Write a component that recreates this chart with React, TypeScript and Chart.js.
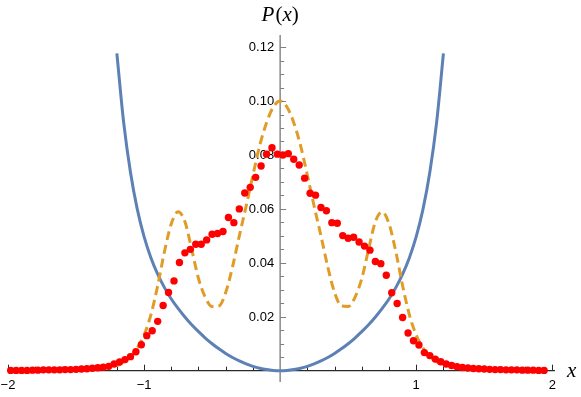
import React, { useEffect, useRef } from 'react';
import { Chart, registerables } from 'chart.js';

Chart.register(...registerables);

// Histogram / sampled probability (red dots)
const dotX = [
  -1.98, -1.94, -1.9, -1.86, -1.82, -1.78, -1.74, -1.7, -1.66, -1.62,
  -1.58, -1.54, -1.5, -1.46, -1.42, -1.38, -1.34, -1.3, -1.26, -1.22,
  -1.18, -1.14, -1.1, -1.06, -1.02, -0.98, -0.94, -0.9, -0.86, -0.82,
  -0.78, -0.74, -0.7, -0.66, -0.62, -0.58, -0.54, -0.5, -0.46, -0.42,
  -0.38, -0.34, -0.3, -0.26, -0.22, -0.18, -0.14, -0.1, -0.06, -0.02,
  0.02, 0.06, 0.1, 0.14, 0.18, 0.22, 0.26, 0.3, 0.34, 0.38,
  0.42, 0.46, 0.5, 0.54, 0.58, 0.62, 0.66, 0.7, 0.74, 0.78,
  0.82, 0.86, 0.9, 0.94, 0.98, 1.02, 1.06, 1.1, 1.14, 1.18,
  1.22, 1.26, 1.3, 1.34, 1.38, 1.42, 1.46, 1.5, 1.54, 1.58,
  1.62, 1.66, 1.7, 1.74, 1.78, 1.82, 1.86, 1.9, 1.94,
];
const dotP = [
  0.0001, 0.0001, 0.0001, 0.0001, 0.0002, 0.0002, 0.0003, 0.0003, 0.0003, 0.0003,
  0.0004, 0.0004, 0.0005, 0.0006, 0.0007, 0.0009, 0.0011, 0.0013, 0.0016, 0.0025,
  0.0032, 0.0041, 0.0052, 0.007, 0.0096, 0.013, 0.0148, 0.0183, 0.0242, 0.029,
  0.0333, 0.0401, 0.0437, 0.045, 0.0469, 0.0469, 0.0485, 0.0506, 0.0509, 0.0516,
  0.0568, 0.0549, 0.06, 0.0659, 0.068, 0.0717, 0.0759, 0.0803, 0.0827, 0.0803,
  0.08, 0.0805, 0.0784, 0.0763, 0.0714, 0.0658, 0.0651, 0.0605, 0.0593, 0.0549,
  0.0547, 0.0501, 0.0491, 0.0495, 0.0477, 0.0462, 0.0447, 0.0405, 0.0397, 0.0354,
  0.0289, 0.0249, 0.0197, 0.014, 0.0111, 0.0095, 0.0067, 0.0056, 0.0043, 0.0033,
  0.0025, 0.0019, 0.0015, 0.0012, 0.001, 0.0008, 0.0007, 0.0006, 0.0005, 0.0004,
  0.0004, 0.0003, 0.0003, 0.0003, 0.0002, 0.0002, 0.0002, 0.0001, 0.0001,
];

// Curves (blue potential, orange dashed density)
const curveX = [
  -1.2, -1.15, -1.1, -1.05, -1.0, -0.95, -0.9, -0.85, -0.8, -0.75,
  -0.7, -0.65, -0.6, -0.55, -0.5, -0.45, -0.4, -0.35, -0.3, -0.25,
  -0.2, -0.15, -0.1, -0.05, 0, 0.05, 0.1, 0.15, 0.2, 0.25,
  0.3, 0.35, 0.4, 0.45, 0.5, 0.55, 0.6, 0.65, 0.7, 0.75,
  0.8, 0.85, 0.9, 0.95, 1.0, 1.05, 1.1, 1.15, 1.2,
];
const potential = [
  0.1177, 0.0921, 0.0736, 0.0599, 0.0497, 0.0419, 0.0358, 0.0308, 0.0266, 0.0231,
  0.0199, 0.017, 0.0145, 0.0121, 0.01, 0.0081, 0.0064, 0.0049, 0.0036, 0.0025,
  0.0016, 0.0009, 0.0004, 0.0001, 0, 0.0001, 0.0004, 0.0009, 0.0016, 0.0025,
  0.0036, 0.0049, 0.0064, 0.0081, 0.01, 0.0121, 0.0145, 0.017, 0.0199, 0.0231,
  0.0266, 0.0308, 0.0358, 0.0419, 0.0497, 0.0599, 0.0736, 0.0921, 0.1177,
];
const density = [
  0.0017, 0.0033, 0.0053, 0.0084, 0.0132, 0.0207, 0.0315, 0.0442, 0.0545, 0.0589,
  0.0553, 0.045, 0.0342, 0.0272, 0.0238, 0.024, 0.029, 0.0385, 0.05, 0.061,
  0.0725, 0.0835, 0.092, 0.0978, 0.1, 0.0978, 0.092, 0.0835, 0.0725, 0.061,
  0.05, 0.0385, 0.029, 0.024, 0.0238, 0.0272, 0.0342, 0.045, 0.0553, 0.0589,
  0.0545, 0.0442, 0.0315, 0.0207, 0.0132, 0.0084, 0.0053, 0.0033, 0.0017,
];

const xMajorTicks = [-2, -1, 1, 2];
const xTickLabels = ['\u22122', '\u22121', '1', '2'];
const xMinorTicks = [
  -1.8, -1.6, -1.4, -1.2, -0.8, -0.6, -0.4, -0.2, 0.2, 0.4, 0.6, 0.8, 1.2, 1.4, 1.6, 1.8,
];
const yMajorTicks = [0.02, 0.04, 0.06, 0.08, 0.1, 0.12];
const yTickLabels = ['0.02', '0.04', '0.06', '0.08', '0.10', '0.12'];
const yMinorTicks = [
  0.005, 0.01, 0.015, 0.025, 0.03, 0.035, 0.045, 0.05, 0.055, 0.065, 0.07, 0.075,
  0.085, 0.09, 0.095, 0.105, 0.11, 0.115,
];

const axesPlugin = {
  id: 'mmaAxes',
  beforeDatasetsDraw(chart: any) {
    const { ctx, chartArea, scales } = chart;
    const xs = scales.x;
    const ys = scales.y;
    const x0 = xs.getPixelForValue(0);
    const y0 = ys.getPixelForValue(0);
    ctx.save();
    // y axis
    ctx.strokeStyle = '#808080';
    ctx.lineWidth = 1.4;
    ctx.beginPath();
    ctx.moveTo(x0, chartArea.top);
    ctx.lineTo(x0, chartArea.bottom);
    ctx.stroke();
    ctx.lineWidth = 1;
    for (const t of yMajorTicks) {
      const p = Math.round(ys.getPixelForValue(t)) + 0.5;
      ctx.beginPath();
      ctx.moveTo(x0, p);
      ctx.lineTo(x0 + 6, p);
      ctx.stroke();
    }
    for (const t of yMinorTicks) {
      const p = Math.round(ys.getPixelForValue(t)) + 0.5;
      ctx.beginPath();
      ctx.moveTo(x0, p);
      ctx.lineTo(x0 + 4, p);
      ctx.stroke();
    }
    // x axis
    ctx.strokeStyle = '#2a2a2a';
    ctx.lineWidth = 1.3;
    ctx.beginPath();
    ctx.moveTo(chartArea.left, y0);
    ctx.lineTo(chartArea.right, y0);
    ctx.stroke();
    ctx.lineWidth = 1;
    for (const t of xMajorTicks) {
      const p = Math.round(xs.getPixelForValue(t)) + 0.5;
      ctx.beginPath();
      ctx.moveTo(p, y0);
      ctx.lineTo(p, y0 - 6);
      ctx.stroke();
    }
    for (const t of xMinorTicks) {
      const p = Math.round(xs.getPixelForValue(t)) + 0.5;
      ctx.beginPath();
      ctx.moveTo(p, y0);
      ctx.lineTo(p, y0 - 4);
      ctx.stroke();
    }
    // tick labels
    ctx.fillStyle = '#000000';
    ctx.font = '13px "Liberation Sans", Arial, sans-serif';
    ctx.textAlign = 'right';
    ctx.textBaseline = 'middle';
    yMajorTicks.forEach((t, i) => {
      ctx.fillText(yTickLabels[i], x0 - 6, ys.getPixelForValue(t) + 0.5);
    });
    ctx.textAlign = 'center';
    ctx.textBaseline = 'top';
    xMajorTicks.forEach((t, i) => {
      ctx.fillText(xTickLabels[i], xs.getPixelForValue(t), y0 + 8);
    });
    // axis labels
    const it = 'italic 21px "Liberation Serif", "Times New Roman", serif';
    const rm = '21px "Liberation Serif", "Times New Roman", serif';
    ctx.textBaseline = 'alphabetic';
    ctx.textAlign = 'left';
    const parts: [string, string][] = [['P', it], ['(', rm], ['x', it], [')', rm]];
    let total = 0;
    const widths = parts.map(([s, f]) => {
      ctx.font = f;
      const w = ctx.measureText(s).width + (s === 'P' ? 1 : 0);
      total += w;
      return w;
    });
    let cx = x0 - total / 2;
    parts.forEach(([s, f], i) => {
      ctx.font = f;
      ctx.fillText(s, cx, 21);
      cx += widths[i];
    });
    ctx.font = it;
    ctx.fillText('x', 567, y0 + 6);
    ctx.restore();
  },
};

export default function App() {
  const ref = useRef<HTMLCanvasElement | null>(null);
  useEffect(() => {
    if (!ref.current) return;
    const chart = new Chart(ref.current, {
      type: 'scatter',
      data: {
        datasets: [
          {
            type: 'scatter',
            data: dotX.map((x, i) => ({ x, y: dotP[i] })),
            backgroundColor: '#ff0000',
            borderWidth: 0,
            pointRadius: 3.7,
            order: 0,
          } as any,
          {
            type: 'line',
            data: curveX.map((x, i) => ({ x, y: density[i] })),
            borderColor: '#e09c26',
            borderWidth: 3,
            borderDash: [9, 5],
            pointRadius: 0,
            cubicInterpolationMode: 'monotone',
            fill: false,
            order: 1,
          } as any,
          {
            type: 'line',
            data: curveX.map((x, i) => ({ x, y: potential[i] })),
            borderColor: '#5e81b5',
            borderWidth: 3,
            pointRadius: 0,
            cubicInterpolationMode: 'monotone',
            fill: false,
            order: 2,
          } as any,
        ],
      },
      options: {
        responsive: false,
        animation: false,
        clip: false as any,
        layout: { padding: { left: 8, right: 26, top: 35, bottom: 15 } },
        plugins: { legend: { display: false }, tooltip: { enabled: false } },
        scales: {
          x: { type: 'linear', min: -2, max: 2.02, display: false },
          y: { type: 'linear', min: -0.0042, max: 0.1245, display: false },
        },
      },
      plugins: [axesPlugin],
    });
    return () => chart.destroy();
  }, []);
  return (
    <div style={{ position: 'fixed', left: 0, top: 0, width: 581, height: 397, background: '#fff' }}>
      <canvas ref={ref} width={581} height={397} style={{ display: 'block' }} />
    </div>
  );
}
